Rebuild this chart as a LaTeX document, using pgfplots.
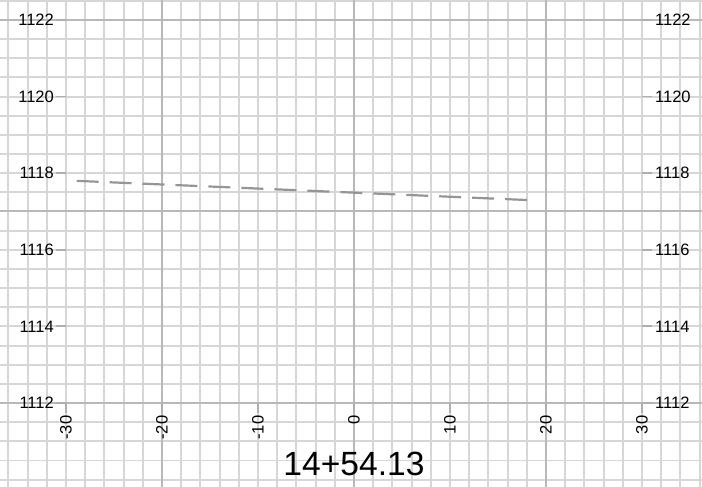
\documentclass[border=0pt]{standalone}
\usepackage{fontspec}
\setmainfont{Liberation Sans}
\usepackage{pgfplots}
\pgfplotsset{compat=1.18}
\definecolor{minorg}{HTML}{D6D6D6}
\definecolor{majorg}{HTML}{B8B8B8}
\definecolor{tickg}{HTML}{AFAFAF}
\definecolor{lineg}{HTML}{959595}
\newcommand{\xt}[1]{\draw[tickg, line width=1.8pt] (axis cs:#1,1112) -- ([yshift=-10pt]axis cs:#1,1112);}
\newcommand{\ylt}[1]{\draw[tickg, line width=1.8pt] (axis cs:-30,#1) -- ([xshift=-10pt]axis cs:-30,#1);}
\newcommand{\yrt}[1]{\draw[tickg, line width=1.8pt] (axis cs:30,#1) -- ([xshift=10pt]axis cs:30,#1);}
\begin{document}
\begin{tikzpicture}
\begin{axis}[
  at={(0,0)}, anchor=south west,
  scale only axis, width=702pt, height=487pt,
  xmin=-36.875, xmax=36.25, ymin=1109.807, ymax=1122.522,
  axis line style={draw=none},
  xtick={-36,-34,...,36}, ytick={1110,1110.5,...,1122.5},
  xticklabels={}, yticklabels={},
  major tick length=0pt,
  grid=major, major grid style={minorg, line width=1.9pt},
  extra x ticks={-20,0,20}, extra y ticks={1112,1117,1122},
  extra x tick labels={}, extra y tick labels={},
  extra tick style={grid=major, major grid style={majorg, line width=2pt}},
  clip=false,
]
% ticks
\xt{-30}\xt{-20}\xt{-10}\xt{0}\xt{10}\xt{20}\xt{30}
\ylt{1112}\ylt{1114}\ylt{1116}\ylt{1118}\ylt{1120}\ylt{1122}
\yrt{1112}\yrt{1114}\yrt{1116}\yrt{1118}\yrt{1120}\yrt{1122}
% data
\addplot[lineg, line width=2.2pt, dash pattern=on 22pt off 11pt] coordinates {(-28.9,1117.80) (18.0,1117.30)};
% labels
\begin{scope}[every node/.style={font=\fontsize{16.5}{18}\selectfont, inner sep=0pt, text=black}]
\node[anchor=east] at (axis cs:-31.25,1112) {1112};
\node[anchor=east] at (axis cs:-31.25,1114) {1114};
\node[anchor=east] at (axis cs:-31.25,1116) {1116};
\node[anchor=east] at (axis cs:-31.25,1118) {1118};
\node[anchor=east] at (axis cs:-31.25,1120) {1120};
\node[anchor=east] at (axis cs:-31.25,1122) {1122};
\node[anchor=west] at (axis cs:31.35,1112) {1112};
\node[anchor=west] at (axis cs:31.35,1114) {1114};
\node[anchor=west] at (axis cs:31.35,1116) {1116};
\node[anchor=west] at (axis cs:31.35,1118) {1118};
\node[anchor=west] at (axis cs:31.35,1120) {1120};
\node[anchor=west] at (axis cs:31.35,1122) {1122};
\node[rotate=90, anchor=east, xshift=2pt] at (axis cs:-30,1111.62) {-30};
\node[rotate=90, anchor=east, xshift=2pt] at (axis cs:-20,1111.62) {-20};
\node[rotate=90, anchor=east, xshift=2pt] at (axis cs:-10,1111.62) {-10};
\node[rotate=90, anchor=east, xshift=2pt] at (axis cs:0,1111.62) {0};
\node[rotate=90, anchor=east, xshift=2pt] at (axis cs:10,1111.62) {10};
\node[rotate=90, anchor=east, xshift=2pt] at (axis cs:20,1111.62) {20};
\node[rotate=90, anchor=east, xshift=2pt] at (axis cs:30,1111.62) {30};
\end{scope}
\node[font=\fontsize{33.6}{36}\selectfont, inner sep=0pt, text=black] at (axis cs:0,1110.41) {14+54.13};
\end{axis}
\pgfresetboundingbox
\useasboundingbox (0,0) rectangle (702pt,487pt);
\end{tikzpicture}
\end{document}
